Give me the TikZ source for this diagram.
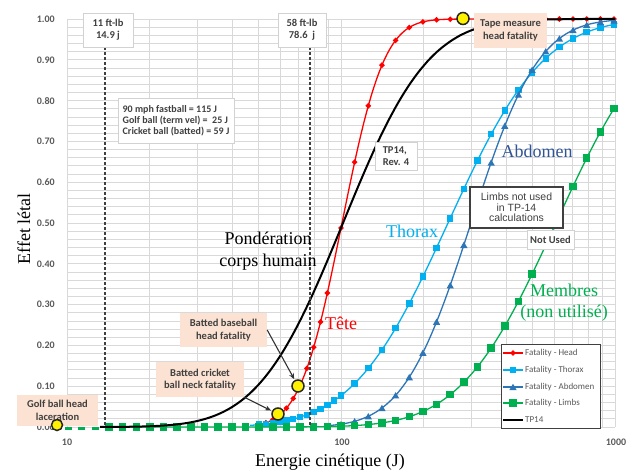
\documentclass[tikz,border=0pt]{standalone}
\usepackage{fontspec}
\setmainfont{Liberation Serif}
\newfontfamily\carl{Carlito}
\newfontfamily\arl{Liberation Sans}
\usetikzlibrary{arrows.meta,shapes.geometric}
\definecolor{cHead}{RGB}{255,0,0}
\definecolor{cThor}{RGB}{0,176,240}
\definecolor{cAbd}{RGB}{46,117,182}
\definecolor{cLimb}{RGB}{0,176,80}
\definecolor{gridc}{RGB}{217,217,217}
\definecolor{peach}{RGB}{251,226,210}
\definecolor{txtg}{RGB}{89,89,89}
\definecolor{dkg}{RGB}{64,64,64}
\definecolor{abdtxt}{RGB}{47,85,151}
\pgfmathdeclarefunction{ncdf}{1}{\pgfmathparse{1/(1+exp(max(-9,min(9,-(1.5976*(#1)+0.070566*(#1)*(#1)*(#1))))))}}
\begin{document}
\begin{tikzpicture}[x=1pt,y=-1pt,
  gridline/.style={draw=gridc, line width=0.8pt},
  ticklab/.style={font=\carl\bfseries\fontsize{10}{12}\selectfont, text=txtg, inner sep=0pt},
  infobox/.style={draw=gray!35, fill=white, font=\carl\bfseries\fontsize{10.5}{12}\selectfont, text=dkg, align=center, inner sep=0pt},
  peachbox/.style={fill=peach, font=\carl\bfseries\fontsize{10.5}{12.5}\selectfont, text=dkg, align=center, inner sep=0pt},
  mkhead/.style={diamond, fill=cHead, minimum size=6pt, inner sep=0pt},
  mkthor/.style={rectangle, fill=cThor, minimum size=6.5pt, inner sep=0pt},
  mkabd/.style={regular polygon, regular polygon sides=3, fill=cAbd, minimum size=8.5pt, inner sep=0pt},
  mklimb/.style={rectangle, fill=cLimb, minimum size=7.5pt, inner sep=0pt},
  ball/.style={circle, fill=yellow, draw=black!85, line width=1.5pt, minimum size=11pt, inner sep=0pt},
  callout/.style={-{Stealth[length=6pt,width=5pt]}, draw=black!80, line width=1.1pt},
  vdash/.style={draw=dkg, line width=1.2pt, dash pattern=on 3pt off 2pt},
  bigtxt/.style={font=\fontsize{18}{22}\selectfont, inner sep=0pt},
  legtxt/.style={font=\carl\fontsize{9}{11}\selectfont, text=txtg, inner sep=0pt, anchor=west}
]
\useasboundingbox[fill=white] (0,0) rectangle (631,473);
% grid
\foreach \e in {20,30,40,50,60,70,80,90,200,300,400,500,600,700,800,900}
  \draw[gridline] ({341+274*log10(\e/100)},19) -- ({341+274*log10(\e/100)},427);
\foreach \i in {0,...,50}
  \draw[gridline] (67,{427-8.16*\i}) -- (615,{427-8.16*\i});
\draw[gridline] (67,19) -- (67,427);
\draw[gridline] (341,19) -- (341,427);
\draw[gridline] (615,19) -- (615,427);
% tick labels
\foreach \v/\t [count=\i] in {0/0.00,1/0.10,2/0.20,3/0.30,4/0.40,5/0.50,6/0.60,7/0.70,8/0.80,9/0.90,10/1.00}
  \node[ticklab, anchor=east] (yt\i) at (55,{427-40.8*\v}) {\t};
\node[ticklab] (xt1) at (67,442) {10};
\node[ticklab] (xt2) at (342,442) {100};
\node[ticklab] (xt3) at (616,442) {1000};
% axis titles
\node[bigtxt] (xlab) at (330,462) {Energie cinétique (J)};
\node[bigtxt, rotate=90] (ylab) at (24,229) {Effet létal};
% head
\draw[cHead, line width=1.3pt] plot[domain=255:615, samples=140] (\x,{427-408*ncdf((\x-342)/33)});
\foreach \k [count=\i] in {-6,-5.5,-5,-4.5,-4,-3.5,-3,-2.5,-2,-1.5,-1,0,1,2,3,4,5,6,7,8,9,10,11,12,13,14,15,16,17,18,19,20}{
  \pgfmathsetmacro\xx{341+13.65*\k}
  \pgfmathsetmacro\yy{427-408*ncdf((\xx-342)/33)}
  \node[mkhead] (hm\i) at (\xx,\yy) {};
}
% thorax
\draw[cThor, line width=1.3pt] plot[domain=250:615, samples=140] (\x,{427-408*ncdf((\x-448)/75)});
\foreach \k [count=\i] in {-6,-5.5,-5,-4.5,-4,-3.5,-3,-2.5,-2,-1.5,-1,-0.5,0,1,2,3,4,5,6,7,8,9,10,11,12,13,14,15,16,17,18,19,20}{
  \pgfmathsetmacro\xx{341+13.65*\k}
  \pgfmathsetmacro\yy{427-408*ncdf((\xx-448)/75)}
  \node[mkthor] (tm\i) at (\xx,\yy) {};
}
% abdomen
\draw[cAbd, line width=1.3pt] plot[domain=325:615, samples=120] (\x,{427-408*ncdf((\x-471)/53)});
\foreach \k [count=\i] in {0,1,2,3,4,5,6,7,8,9,10,11,12,13,14,15,16,17,18,19,20}{
  \pgfmathsetmacro\xx{341+13.65*\k}
  \pgfmathsetmacro\yy{427-408*ncdf((\xx-471)/53)+1}
  \node[mkabd] (am\i) at (\xx,\yy) {};
}
% limbs
\draw[cLimb, line width=1.3pt] plot[domain=108:615, samples=160] (\x,{427-408*ncdf((\x-556)/75)});
\foreach \k [count=\i] in {-17,-16,-15,-14,-13,-12,-11,-10,-9,-8,-7,-6,-5,-4,-3,-2,-1,0,1,2,3,4,5,6,7,8,9,10,11,12,13,14,15,16,17,18,19,20}{
  \pgfmathsetmacro\xx{341+13.65*\k}
  \pgfmathsetmacro\yy{427-408*ncdf((\xx-556)/75)}
  \node[mklimb] (lm\i) at (\xx,\yy) {};
}
\foreach \xx [count=\i] in {68.5,81.5,95}
  \node[rectangle, fill=cLimb, minimum width=7pt, minimum height=3pt, inner sep=0pt] (lf\i) at (\xx,428) {};
% TP14
\draw[black, line width=2pt] plot[domain=100:615, samples=160] (\x,{427-408*ncdf((\x-343)/67)});
% dashed verticals
\coordinate (d1t) at (105,47); \coordinate (d1b) at (105,427);
\coordinate (d2t) at (310,47); \coordinate (d2b) at (310,427);
\draw[vdash] (d1t) -- (d1b);
\draw[vdash] (d2t) -- (d2b);
% info boxes
\node[infobox, minimum width=50pt, minimum height=34pt] (b11) at (108,30) {11 ft-lb\\14.9 j};
\node[infobox, minimum width=48pt, minimum height=34pt] (b58) at (302,30) {58 ft-lb\\78.6\ \ j};
\node[infobox, minimum width=116pt, minimum height=45pt, align=left, font=\carl\bfseries\fontsize{10}{11}\selectfont] (binfo) at (176,120.5) {90 mph fastball = 115 J\\Golf ball (term vel) =\ \ 25 J\\Cricket ball (batted) = 59 J};
\node[infobox, minimum width=42pt, minimum height=28pt, align=left] (btp) at (396,156) {TP14,\\Rev. 4};
\node[draw=dkg, line width=1.2pt, fill=white, minimum width=93pt, minimum height=41pt, align=center, font=\arl\fontsize{10.5}{10.5}\selectfont, text=dkg, inner sep=0pt] (blimb) at (516.5,207.5) {Limbs not used\\in TP-14\\calculations};
\node[infobox, minimum width=47pt, minimum height=19pt] (bnot) at (550.5,239.5) {Not Used};
% peach callouts
\node[peachbox, minimum width=73pt, minimum height=35pt] (btape) at (510.5,30.5) {Tape measure\\head fatality};
\node[peachbox, minimum width=87pt, minimum height=34pt] (bbase) at (223.5,330) {Batted baseball\\head fatality};
\node[peachbox, minimum width=88pt, minimum height=35pt] (bcric) at (200,379.5) {Batted cricket\\ball neck fatality};
\node[peachbox, minimum width=81pt, minimum height=31pt] (bgolf) at (57.5,410.5) {Golf ball head\\laceration};
% yellow markers
\node[ball] (cgolf) at (57,425) {};
\node[ball, minimum size=12pt] (ccric) at (278,414) {};
\node[ball, minimum size=12pt] (cbase) at (298,386) {};
\node[ball, minimum size=12pt] (ctape) at (463,18.5) {};
\draw[callout, shorten >=1pt] (bbase.east) -- (cbase);
\draw[callout, shorten >=1pt] (bcric.south east) -- (ccric);
% curve labels
\node[bigtxt, align=center] (lpond) at (268,251) {Pondération\\corps humain};
\node[bigtxt, text=cHead] (ltete) at (341,323) {Tête};
\node[bigtxt, text=cThor, anchor=west] (lthor) at (386,231) {Thorax};
\node[bigtxt, text=abdtxt] (labd) at (537,151) {Abdomen};
\node[bigtxt, text=cLimb, align=center, font=\fontsize{18}{21}\selectfont] (llimb) at (564,302.5) {Membres\\(non utilisé)};
% legend
\node[draw=dkg, line width=0.9pt, fill=white, minimum width=99pt, minimum height=84pt, inner sep=0pt] (leg) at (550.5,386) {};
\draw[cHead, line width=1.3pt] (503,353) -- (523,353);
\node[mkhead] (lg1) at (513,353) {};
\node[legtxt] (lt1) at (525,353) {Fatality - Head};
\draw[cThor, line width=1.3pt] (503,370) -- (523,370);
\node[mkthor] (lg2) at (513,370) {};
\node[legtxt] (lt2) at (525,370) {Fatality - Thorax};
\draw[cAbd, line width=1.3pt] (503,387) -- (523,387);
\node[mkabd] (lg3) at (513,388) {};
\node[legtxt] (lt3) at (525,387) {Fatality - Abdomen};
\draw[cLimb, line width=1.3pt] (503,403) -- (523,403);
\node[mklimb] (lg4) at (513,403) {};
\node[legtxt] (lt4) at (525,403) {Fatality - Limbs};
\draw[black, line width=2pt] (503,420) -- (523,420);
\node[legtxt] (lt5) at (525,420) {TP14};
\end{tikzpicture}
\end{document}
